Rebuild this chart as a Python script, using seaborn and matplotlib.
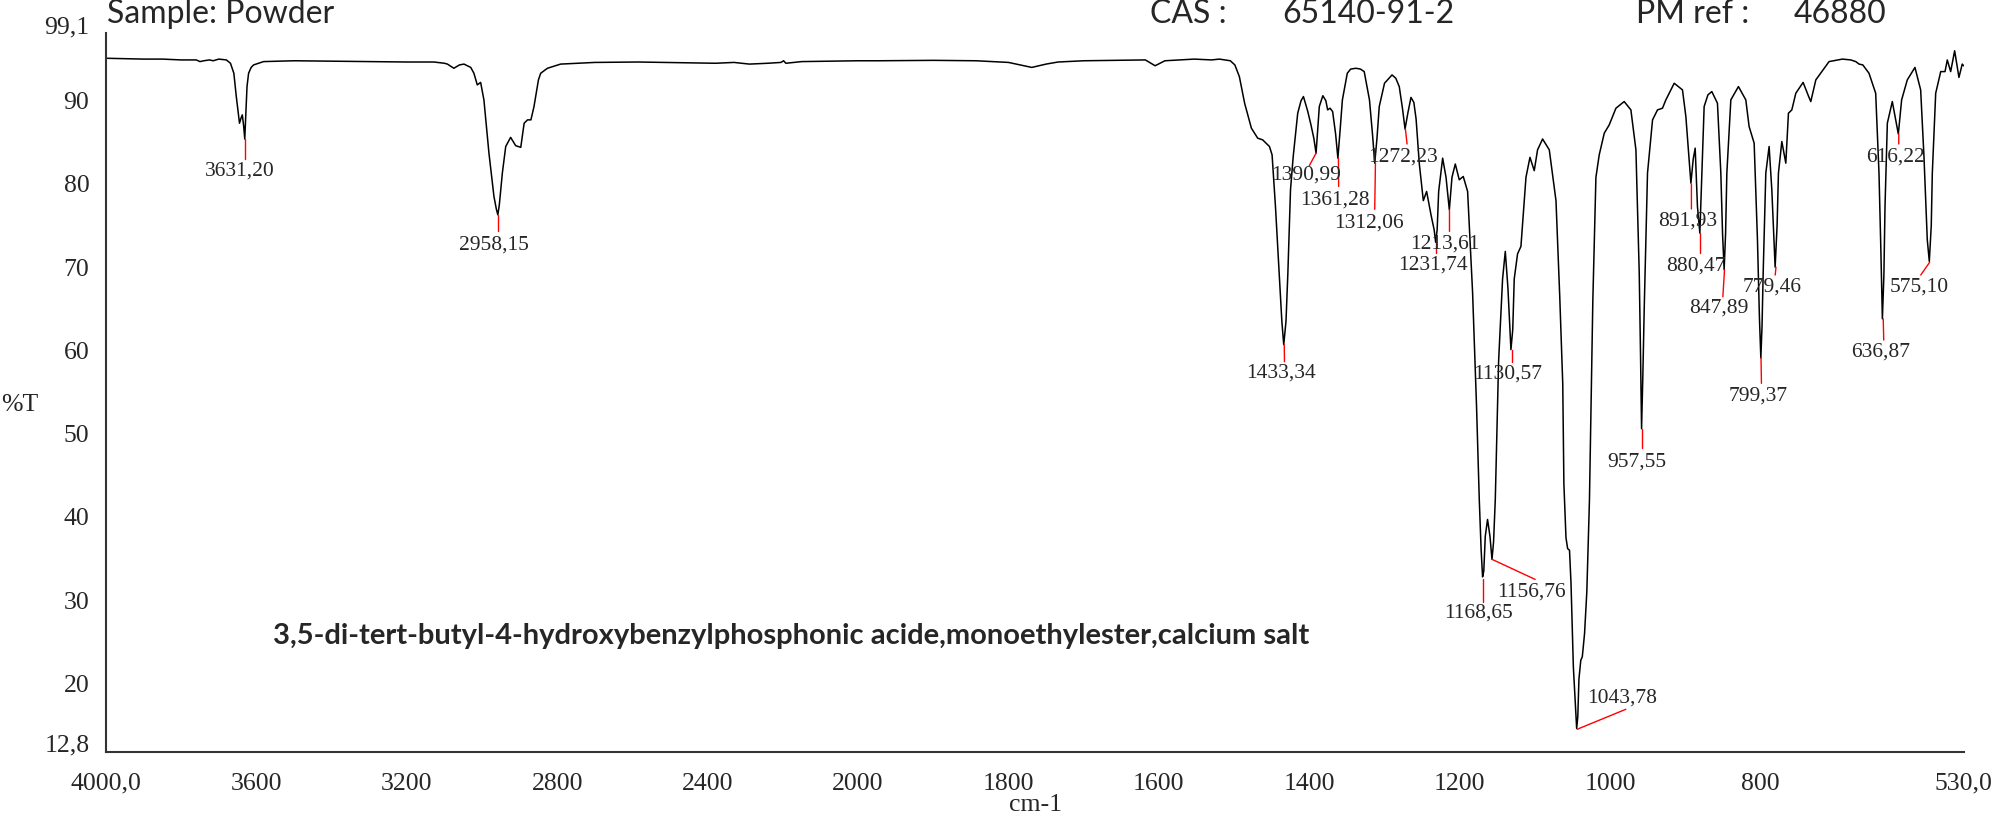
import numpy as np
import pandas as pd
import seaborn as sns
import matplotlib.pyplot as plt

# IR spectrum (wavenumber cm-1, %T)
wavenumber = [4000, 3950, 3900, 3850, 3800, 3760, 3750, 3740, 3725, 3715, 3700, 3680,
              3669, 3660, 3653.5, 3647, 3645, 3641, 3637.5, 3634, 3631, 3628, 3625,
              3620.8, 3614, 3607.5, 3581, 3500, 3400, 3300, 3200, 3128, 3100, 3092,
              3075, 3060, 3048, 3030, 3021.6, 3012.6, 3003.7, 2995, 2987.8, 2981.6,
              2968.3, 2962, 2958, 2954, 2946, 2937, 2924, 2910.5, 2897, 2888, 2879,
              2870, 2861.8, 2850, 2844, 2826, 2791, 2700, 2585, 2450, 2379, 2330,
              2289, 2240, 2205, 2198, 2192, 2150, 2000, 1972, 1900, 1843, 1800, 1769,
              1750, 1734, 1700, 1618, 1605, 1592, 1553, 1530, 1519.5, 1505, 1499,
              1493, 1486, 1477, 1468.6, 1462, 1453, 1449.5, 1445, 1440, 1436.5, 1434,
              1431, 1428.5, 1425, 1421.4, 1415.4, 1411, 1407.8, 1402, 1397.8, 1394,
              1391, 1388.5, 1386.7, 1382, 1378, 1375.6, 1372.4, 1369, 1365, 1362,
              1359, 1356, 1349.5, 1345, 1338, 1332, 1327, 1320, 1316, 1313, 1310,
              1307, 1300, 1290, 1285, 1280.4, 1276, 1272.7, 1269, 1264.8, 1261, 1258,
              1253.7, 1248.4, 1244, 1238.2, 1234, 1232, 1230, 1228, 1222.7, 1218.2,
              1213.8, 1210.3, 1205.9, 1200.6, 1195.3, 1189.5, 1182.9, 1177.6, 1174,
              1171.5, 1169.6, 1168, 1166, 1163, 1159.8, 1157.1, 1155, 1152.7, 1148.3,
              1143, 1139.4, 1135.9, 1131.9, 1129.5, 1127.5, 1123.1, 1118.6, 1111.9,
              1106.6, 1100.9, 1096.5, 1089.8, 1080.9, 1072, 1067, 1063, 1061.5,
              1058.7, 1056.5, 1054, 1052, 1048.9, 1046, 1044.5, 1043, 1041.5, 1039,
              1037, 1034, 1031, 1027.5, 1025, 1023, 1020, 1018.9, 1014.5, 1007.8,
              1001.2, 992.3, 981.3, 972.4, 965.7, 961.3, 959.5, 958.2, 956.5, 954.6,
              950.3, 943.6, 937, 930.4, 925.9, 914.8, 903.8, 899.3, 895, 892.6,
              889.5, 886.9, 883.9, 880.7, 878, 875, 870, 864.8, 857.3, 852.8, 850.5,
              848.4, 846.5, 844.8, 839.5, 829.4, 819.6, 815.2, 808.5, 804.1, 801.5,
              799.6, 798, 796.5, 793, 788.6, 785, 780.6, 778, 776.2, 771.7, 766.4,
              762.9, 758.4, 753.1, 743.4, 736, 733.2, 726.5, 708.9, 691.2, 680,
              673.4, 669, 664, 655.8, 646.9, 642.5, 640, 638, 636, 634.5, 631.4,
              624.8, 620.3, 616.8, 612.4, 604.9, 594.7, 587.1, 582.7, 578.3, 575.6,
              573, 571.6, 567.1, 560.4, 554.7, 551.7, 547.2, 541.9, 536.2, 531.8, 530]
transmittance = [96.1, 96.05, 96.0, 96.0, 95.9, 95.9, 95.7, 95.8, 95.9, 95.8, 96.0, 95.9,
                 95.5, 94.3, 91.5, 89.0, 88.3, 88.9, 89.3, 88.0, 86.4, 89.5, 92.7,
                 94.3, 95.0, 95.3, 95.7, 95.8, 95.75, 95.7, 95.65, 95.65, 95.5, 95.4,
                 94.9, 95.3, 95.4, 95.0, 94.3, 92.9, 93.2, 91.1, 87.7, 84.7,
                 79.5, 78.0, 77.3, 78.5, 82.3, 85.5, 86.6, 85.6, 85.4, 88.3, 88.7,
                 88.7, 90.3, 93.5, 94.3, 94.9, 95.4, 95.6, 95.65, 95.55, 95.5, 95.6,
                 95.4, 95.5, 95.6, 95.8, 95.5, 95.7, 95.8, 95.8, 95.85, 95.8, 95.6, 95.0,
                 95.4, 95.65, 95.8, 95.9, 95.2, 95.8, 96.0, 95.9, 96.0, 95.8, 95.3,
                 93.9, 90.7, 87.7, 86.5, 86.3, 85.5, 84.5, 78.3, 70.3, 64.5, 61.7,
                 64.5, 70.3, 80.3, 84.3, 89.5, 91.0, 91.5, 89.7, 88.1, 86.5,
                 84.7, 88.0, 90.3, 91.6, 91.0, 89.9, 90.1, 89.7, 87.0, 84.1,
                 87.5, 91.1, 94.3, 94.8, 94.9, 94.8, 94.5, 91.1, 87.0, 83.5, 86.5,
                 90.3, 93.1, 94.1, 93.7, 92.7, 90.0, 87.6, 89.5, 91.4, 90.8, 88.8,
                 83.4, 79.0, 80.1, 77.3, 75.5, 74.0, 75.5, 80.1, 84.1, 81.8,
                 77.9, 81.8, 83.4, 81.5, 81.9, 80.1, 68.0, 54.2, 43.1,
                 37.0, 33.8, 34.5, 38.7, 40.7, 38.7, 35.9, 38.0, 43.1, 59.7,
                 69.6, 72.9, 68.5, 61.1, 63.5, 69.6, 72.6, 73.5, 81.8,
                 84.2, 82.6, 85.1, 86.4, 85.1, 79.0, 67.5, 57.0, 45.0,
                 38.5, 37.2, 37.0, 33.0, 23.0, 18.0, 15.6, 17.0, 21.5, 23.8,
                 24.2, 27.0, 32.0, 43.0, 56.0, 67.0, 78.0, 81.8, 84.5, 87.1,
                 88.1, 90.1, 90.9, 89.9, 85.1, 70.3, 60.0, 51.6, 58.0, 66.3,
                 82.3, 88.7, 89.9, 90.1, 91.1, 93.1, 92.3, 89.1, 84.0, 81.1,
                 84.0, 85.3, 78.3, 75.1, 82.3, 90.3, 91.7, 92.1, 90.7, 82.3, 75.0,
                 70.7, 75.0, 82.3, 91.1, 92.7, 91.1, 87.9, 85.9, 74.3, 65.0,
                 60.1, 64.0, 70.3, 82.3, 85.5, 80.3, 71.0, 76.0, 82.3, 86.1, 83.5,
                 89.5, 89.9, 91.9, 93.2, 91.5, 90.9, 93.5, 95.7, 96.0, 95.9,
                 95.7, 95.4, 95.3, 94.3, 91.9, 82.3, 73.0, 64.8, 70.0, 78.3, 88.3,
                 90.9, 88.7, 87.0, 91.1, 93.5, 95.0, 92.3, 84.3, 74.3, 71.7,
                 76.0, 82.3, 91.9, 94.5, 94.5, 95.9, 94.5, 97.0, 93.8, 95.4, 95.2]

# labelled peaks
peak_wn = [3631.20, 2958.15, 1433.34, 1390.99, 1361.28, 1312.06, 1272.23, 1231.74,
           1213.61, 1168.65, 1156.76, 1130.57, 1043.78, 957.55, 891.93, 880.47,
           847.89, 799.37, 779.46, 636.87, 616.22, 575.10]
peak_t = [86.4, 77.3, 61.7, 84.7, 84.1, 83.5, 87.6, 74.0, 77.9, 33.5, 35.9, 61.1,
          15.5, 51.6, 81.0, 75.1, 70.7, 60.1, 71.0, 64.8, 87.0, 71.6]

y_ticks = [12.8, 20, 30, 40, 50, 60, 70, 80, 90, 99.1]
x_ticks = [4000, 3600, 3200, 2800, 2400, 2000, 1800, 1600, 1400, 1200, 1000, 800, 600, 530]
x_ticklabels = ["4000,0", "3600", "3200", "2800", "2400", "2000", "1800", "1600",
                "1400", "1200", "1000", "800", "", "530,0"]

# where the red marker ends and where the label sits (wn, %T)
marker_end = [(3631.2, 84.0), (2958.15, 75.35), (1433.0, 59.65), (1400, 83.2),
              (1361, 80.7), (1313, 77.96), (1270, 85.8), (1231.74, 72.75),
              (1213.6, 75.3), (1168.65, 30.8), (1099.7, 33.5), (1130.57, 59.65),
              (979.1, 17.9), (957.55, 49.25), (891.9, 78.0), (880.47, 72.75),
              (850.1, 67.45), (798.8, 57.05), (780.5, 70.06), (636.2, 62.25),
              (616.2, 85.8), (587, 70.06)]
label_pos = [(3645, 82.5), (2969, 73.7), (1437.6, 58.25), (1404.4, 82.1),
             (1365.3, 79.1), (1320, 76.35), (1275.9, 84.2), (1235.4, 71.3),
             (1220, 73.8), (1175, 29.4), (1105, 31.95), (1136.9, 58.2),
             (983.8, 19.3), (963.9, 47.6), (897.5, 76.5), (885.9, 71.2),
             (855, 66.1), (802.6, 55.5), (784.8, 68.6), (640.7, 60.8),
             (620.1, 84.2), (589.6, 68.6)]

df = pd.DataFrame({"wn": wavenumber, "T": transmittance})

sns.set_style("white")
serif = ["Liberation Serif", "DejaVu Serif"]
plt.rcParams["font.family"] = serif

fig = plt.figure(figsize=(20, 8.24), dpi=100)
ax = fig.add_axes([0.053, 0.0877, 0.9288, 0.8719])


# the spectrometer compresses the scale above 2000 cm-1 by half
def fwd(x):
    x = np.asarray(x, dtype=float)
    return np.where(x > 2000, 2000 + (x - 2000) / 2, x)


def inv(u):
    u = np.asarray(u, dtype=float)
    return np.where(u > 2000, 2000 + (u - 2000) * 2, u)


ax.set_xscale("function", functions=(fwd, inv))

sns.lineplot(data=df, x="wn", y="T", sort=False, estimator=None, color="black",
             linewidth=1.1, ax=ax)

for wn, t, (ex, ey), (lx, ly) in zip(peak_wn, peak_t, marker_end, label_pos):
    ax.plot([wn, ex], [t, ey], color="red", linewidth=1.0)
    ax.text(lx, ly, f"{wn:.2f}".replace(".", ","), ha="center", va="center",
            fontsize=15.5, family=serif)

ax.set_xlim(4000, 530)
ax.set_ylim(12.8, 99.1)
ax.set_xticks(x_ticks)
ax.set_xticklabels(x_ticklabels)
ax.set_yticks(y_ticks)
ax.set_yticklabels([f"{v:g}".replace(".", ",") for v in y_ticks])
for lab in ax.get_yticklabels():
    lab.set_va("baseline")
ax.minorticks_off()
ax.tick_params(axis="both", direction="out", length=7, width=1, color="#333333",
               labelsize=18.5, pad=5)
ax.tick_params(axis="x", pad=8)
ax.set_xlabel("")
ax.set_ylabel("")
for side in ["top", "right"]:
    ax.spines[side].set_visible(False)
for side in ["left", "bottom"]:
    ax.spines[side].set_color("#333333")
    ax.spines[side].set_linewidth(1.5)

ax.text(3555, 26.7, "3,5-di-tert-butyl-4-hydroxybenzylphosphonic acide,monoethylester,calcium salt",
        ha="left", va="center", fontsize=21, fontweight="bold", family=["Lato", "DejaVu Sans"])

hdr = dict(fontsize=23, family=["Lato", "DejaVu Sans"], va="baseline")
fig.text(0.0535, 0.972, "Sample: Powder", **hdr)
fig.text(0.575, 0.972, "CAS :", **hdr)
fig.text(0.641, 0.972, "65140-91-2", **hdr)
fig.text(0.818, 0.972, "PM ref :", **hdr)
fig.text(0.897, 0.972, "46880", **hdr)

fig.text(0.01, 0.5085, "%T", fontsize=18.5, ha="center", va="center")
fig.text(0.5175, 0.023, "cm-1", fontsize=18.5, ha="center", va="center")

plt.savefig("out.png", dpi=100)
